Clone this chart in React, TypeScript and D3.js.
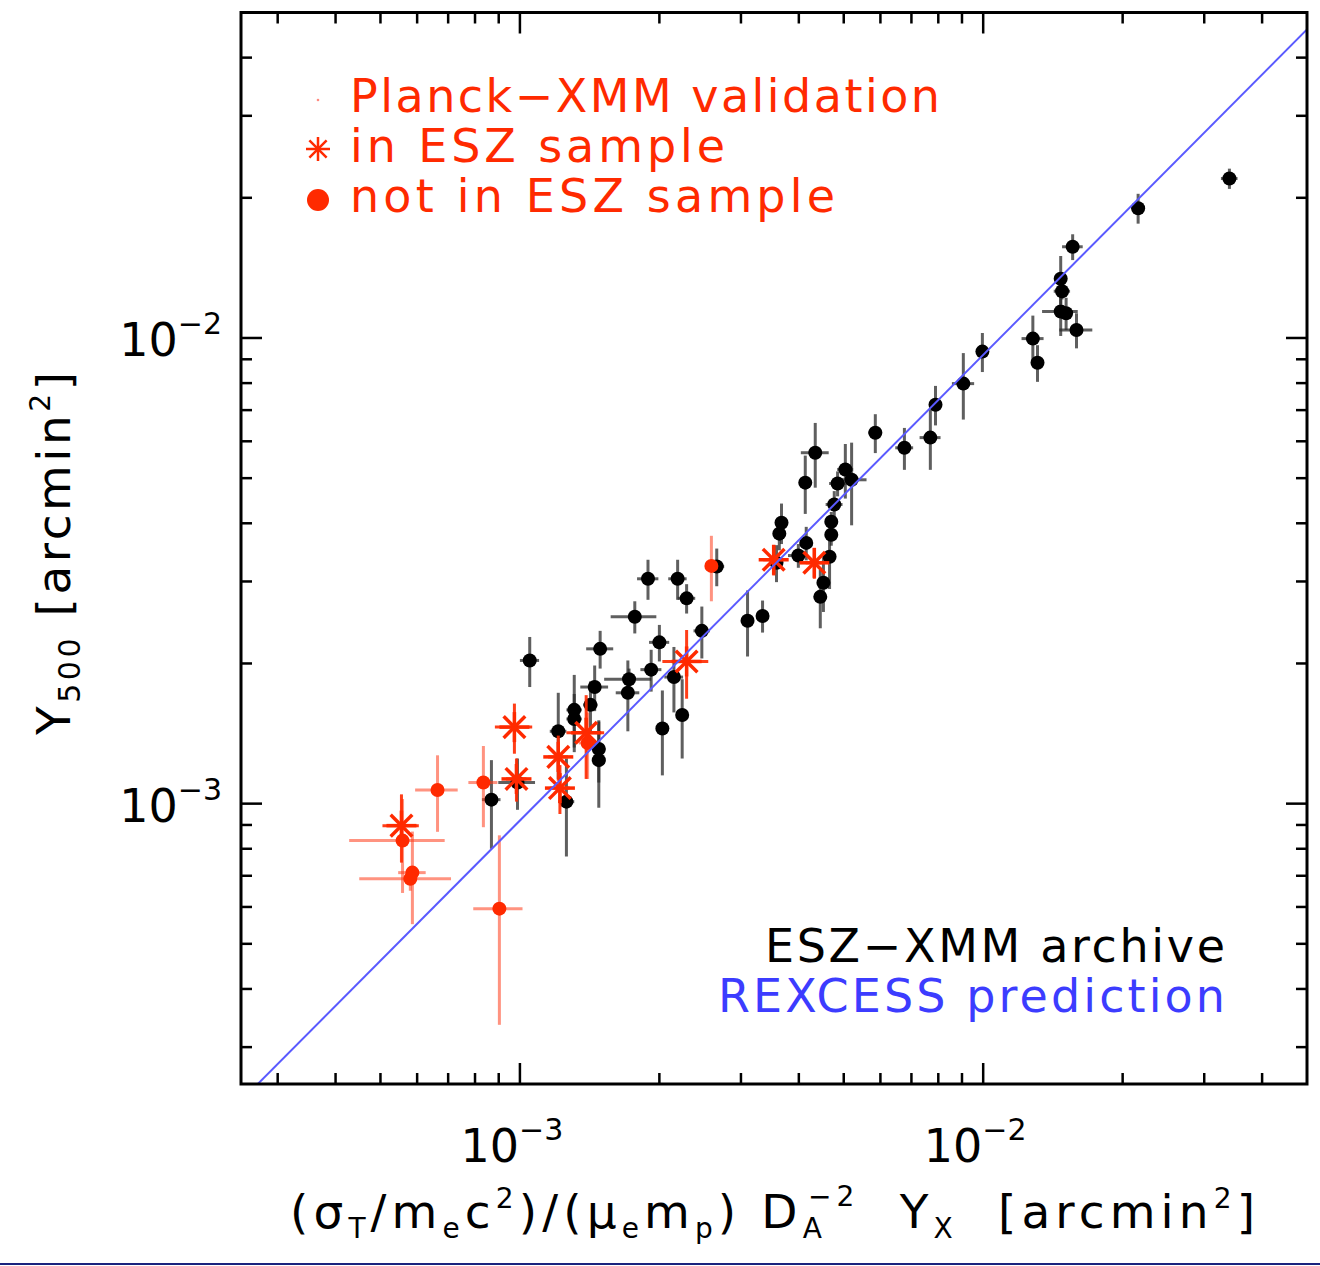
import React from 'react';
import * as d3 from 'd3';

// ---------- data ----------
// ESZ-XMM archive (black)
const eszX = [0.0340, 0.0216, 0.0156, 0.0147, 0.0148, 0.0147, 0.0151, 0.0159, 0.0128, 0.0131,
  0.00996, 0.00906, 0.00789, 0.00769, 0.00676, 0.00585, 0.00520, 0.00504, 0.00485, 0.00477,
  0.00470, 0.00470, 0.00466, 0.00452, 0.00445, 0.00434, 0.00413, 0.00415, 0.00399, 0.00367,
  0.00363, 0.00358, 0.00334, 0.00310, 0.00247, 0.00229, 0.00219, 0.00189, 0.00266, 0.00177,
  0.00200, 0.00149, 0.00105, 0.00192, 0.00215, 0.00224, 0.00203, 0.00172, 0.00171, 0.00145,
  0.00142, 0.00131, 0.00131, 0.00121, 0.00148, 0.00148, 0.00126, 0.000988, 0.000868];
const eszY = [0.0220, 0.0190, 0.0157, 0.0134, 0.0126, 0.0114, 0.0113, 0.0104, 0.00997, 0.00885,
  0.00935, 0.00798, 0.00719, 0.00611, 0.00581, 0.00626, 0.00496, 0.00522, 0.00487, 0.00439,
  0.00403, 0.00378, 0.00339, 0.00298, 0.00278, 0.00567, 0.00489, 0.00363, 0.00341, 0.00401,
  0.00380, 0.00329, 0.00253, 0.00247, 0.00235, 0.00276, 0.00304, 0.00304, 0.00323, 0.00252,
  0.00222, 0.00215, 0.00203, 0.00194, 0.00187, 0.00155, 0.00145, 0.00185, 0.00173, 0.00178,
  0.00163, 0.00159, 0.00152, 0.00143, 0.00131, 0.00124, 0.00101, 0.00111, 0.00102];
const eszXErr = [0.0014, 0.0007, 0.0008, 0.0004, 0.0006, 0.0013, 0.0005, 0.0013, 0.0007, 0.0002,
  0.0003, 0.0005, 0.0002, 0.0004, 0.0003, 0.0002, 0.0004, 0.0002, 0.0002, 0.0002,
  0.0001, 0.0001, 0.0001, 0.0001, 0.0001, 0.0003, 0.0001, 0.0001, 0.0002, 0.0001,
  0.0001, 0.0001, 0.0001, 0.0001, 0.0001, 0.0001, 0.0001, 0.0001, 0.0001, 0.0002,
  0.0001, 0.0001, 0.00005, 0.0001, 0.0001, 0.00005, 0.00005, 0.0002, 0.0001, 0.0001,
  0.00005, 0.00005, 0.00005, 0.00005, 0.00005, 0.00005, 0.00005, 0.00009, 0.00004];
const eszYErr = [0.0011, 0.0014, 0.0010, 0.0016, 0.0005, 0.0013, 0.0009, 0.0009, 0.0012, 0.0008,
  0.0009, 0.0013, 0.0007, 0.0009, 0.0006, 0.0006, 0.0010, 0.0007, 0.0003, 0.0003,
  0.0002, 0.0002, 0.0005, 0.0004, 0.0004, 0.0009, 0.0007, 0.0003, 0.0002, 0.0004,
  0.0003, 0.0003, 0.0002, 0.0004, 0.0003, 0.0002, 0.0003, 0.0003, 0.0003, 0.0002,
  0.0002, 0.0002, 0.00025, 0.0002, 0.0003, 0.0003, 0.0003, 0.0001, 0.0003, 0.0002,
  0.0002, 0.0003, 0.0002, 0.0003, 0.0002, 0.00026, 0.00024, 0.00014, 0.00022];

// Planck-XMM validation, in ESZ sample (red asterisks)
const inX = [0.000555, 0.000973, 0.000983, 0.00121, 0.00122, 0.00139, 0.00229, 0.00353, 0.00432];
const inY = [0.000897, 0.00146, 0.00113, 0.00126, 0.00108, 0.00142, 0.00202, 0.00334, 0.00329];
const inXErr = [0.00005, 0.00009, 0.00005, 0.00006, 0.00006, 0.00013, 0.00026, 0.00018, 0.00018];
const inYErr = [0.00015, 0.00018, 0.00012, 0.00014, 0.00013, 0.00029, 0.00034, 0.00025, 0.00025];

// Planck-XMM validation, not in ESZ sample (red dots)
const outX = [0.000558, 0.000586, 0.000580, 0.000664, 0.000834, 0.000903, 0.00259, 0.00140];
const outY = [0.000833, 0.000711, 0.000690, 0.00107, 0.00111, 0.000595, 0.00324, 0.00135];
const outXErr = [0.00013, 0.00004, 0.00013, 0.00007, 0.00006, 0.00011, 0.00008, 0.00006];
const outYErr = [0.00019, 0.00016, 0.00004, 0.00020, 0.00022, 0.00026, 0.00052, 0.00022];

// REXCESS prediction: Y500 = norm * Yx
const rexcessNorm = 0.92;
const rexcessX = [2.5e-4, 0.05];

const axisDomain: [number, number] = [2.5e-4, 0.05];
const majorTicks = [1e-3, 1e-2];
const majorExps = ['−3', '−2'];

const legendLabels = ['Planck−XMM validation', 'in ESZ sample', 'not in ESZ sample'];
const noteLabels = ['ESZ−XMM archive', 'REXCESS prediction'];

// ---------- drawing ----------
const RED = '#ff2a00';
const BLUE_LINE = '#5a5aff';
const BLUE_TEXT = '#3c3cff';
const FONT = '"DejaVu Sans", "Liberation Sans", sans-serif';

const L = 241, R = 1307, T = 12.5, B = 1084;

function Asterisk({ cx, cy, r, sw }: { cx: number; cy: number; r: number; sw: number }) {
  const d = r * 0.72;
  return (
    <g stroke={RED} strokeWidth={sw} strokeLinecap="butt">
      <line x1={cx - r} y1={cy} x2={cx + r} y2={cy} />
      <line x1={cx} y1={cy - r} x2={cx} y2={cy + r} />
      <line x1={cx - d} y1={cy - d} x2={cx + d} y2={cy + d} />
      <line x1={cx - d} y1={cy + d} x2={cx + d} y2={cy - d} />
    </g>
  );
}

export default function App() {
  const x = d3.scaleLog().domain(axisDomain).range([L, R]);
  const y = d3.scaleLog().domain(axisDomain).range([B, T]);

  const allTicks = x.ticks(20).filter((t) => t > axisDomain[0] * 1.0001 && t < axisDomain[1] * 0.9999);
  const isMajor = (t: number) => majorTicks.some((m) => Math.abs(m - t) / m < 1e-6);

  const errBars = (xs: number[], ys: number[], xe: number[], ye: number[], color: string, op: number, key: string) =>
    xs.map((xv, i) => (
      <g key={key + i} stroke={color} strokeWidth={3} opacity={op}>
        <line x1={x(Math.max(xv - xe[i], 1e-6))} x2={x(xv + xe[i])} y1={y(ys[i])} y2={y(ys[i])} />
        <line x1={x(xv)} x2={x(xv)} y1={y(Math.max(ys[i] - ye[i], 1e-6))} y2={y(ys[i] + ye[i])} />
      </g>
    ));

  const linePath = d3.line<number>().x((d) => x(d)).y((d) => y(d * rexcessNorm))(rexcessX) || '';

  return (
    <svg width={1320} height={1266} style={{ position: 'absolute', left: 0, top: 0, background: '#fff' }}
      fontFamily={FONT}>
      <defs>
        <clipPath id="plotclip">
          <rect x={L} y={T} width={R - L} height={B - T} />
        </clipPath>
      </defs>
      <rect x={0} y={0} width={1320} height={1266} fill="#fff" />

      <g clipPath="url(#plotclip)">
        {errBars(eszX, eszY, eszXErr, eszYErr, '#2a2a2a', 0.75, 'be')}
        {eszX.map((xv, i) => (
          <circle key={'bp' + i} cx={x(xv)} cy={y(eszY[i])} r={7} fill="#000" />
        ))}
        {errBars(outX, outY, outXErr, outYErr, '#ff3b1a', 0.55, 'de')}
        {errBars(inX, inY, inXErr, inYErr, RED, 0.9, 'se')}
        {outX.map((xv, i) => (
          <circle key={'dp' + i} cx={x(xv)} cy={y(outY[i])} r={7} fill={RED} />
        ))}
        {inX.map((xv, i) => (
          <Asterisk key={'sp' + i} cx={x(xv)} cy={y(inY[i])} r={15} sw={3.5} />
        ))}
        <path d={linePath} stroke={BLUE_LINE} strokeWidth={2} fill="none" />
      </g>

      {/* frame */}
      <rect x={L} y={T} width={R - L} height={B - T} fill="none" stroke="#000" strokeWidth={3} />

      {/* ticks */}
      <g stroke="#000" strokeWidth={2.5}>
        {allTicks.map((t, i) => {
          const len = isMajor(t) ? 21 : 11;
          const px = x(t);
          const py = y(t);
          return (
            <g key={'t' + i}>
              <line x1={px} x2={px} y1={B} y2={B - len} />
              <line x1={px} x2={px} y1={T} y2={T + len} />
              <line x1={L} x2={L + len} y1={py} y2={py} />
              <line x1={R} x2={R - len} y1={py} y2={py} />
            </g>
          );
        })}
      </g>

      {/* tick labels */}
      {majorTicks.map((t, i) => (
        <text key={'xl' + i} x={x(t) - 8} y={1162} fontSize={46} textAnchor="middle" fill="#000">
          10<tspan fontSize={30} dy={-22}>{majorExps[i]}</tspan>
        </text>
      ))}
      {majorTicks.map((t, i) => (
        <text key={'yl' + i} x={222} y={y(t) + 18} fontSize={46} textAnchor="end" fill="#000">
          10<tspan fontSize={30} dy={-22}>{majorExps[i]}</tspan>
        </text>
      ))}

      {/* x axis title */}
      <text x={290} y={1228} fontSize={47} fill="#000" textLength={965} lengthAdjust="spacing">
        (σ<tspan fontSize={28} dy={10}>T</tspan>
        <tspan dy={-10}>/m</tspan>
        <tspan fontSize={28} dy={10}>e</tspan>
        <tspan dy={-10}>c</tspan>
        <tspan fontSize={28} dy={-20}>2</tspan>
        <tspan dy={20}>)/(μ</tspan>
        <tspan fontSize={28} dy={10}>e</tspan>
        <tspan dy={-10}>m</tspan>
        <tspan fontSize={28} dy={10}>p</tspan>
        <tspan dy={-10}>) D</tspan>
        <tspan fontSize={28} dy={10}>A</tspan>
        <tspan fontSize={28} dx={-19} dy={-32}>−2</tspan>
        <tspan dy={22}>{'\u00a0\u00a0Y'}</tspan>
        <tspan fontSize={28} dy={10}>X</tspan>
        <tspan dy={-10}>{'\u00a0\u00a0[arcmin'}</tspan>
        <tspan fontSize={28} dy={-20}>2</tspan>
        <tspan dy={20}>]</tspan>
      </text>

      {/* y axis title */}
      <text transform="translate(70,735) rotate(-90)" fontSize={47} fill="#000" textLength={363} lengthAdjust="spacing">
        Y<tspan fontSize={30} dy={10}>500</tspan>
        <tspan dy={-10}>{'\u00a0[arcmin'}</tspan>
        <tspan fontSize={28} dy={-20}>2</tspan>
        <tspan dy={20}>]</tspan>
      </text>

      {/* legend top-left */}
      <circle cx={318} cy={100} r={1.3} fill="#ff8a80" />
      <Asterisk cx={318} cy={149} r={12} sw={2.5} />
      <circle cx={318} cy={200} r={11} fill={RED} />
      {legendLabels.map((s, i) => (
        <text key={'lg' + i} x={350} y={112 + i * 50} fontSize={46} fill={RED}
          textLength={[590, 375, 485][i]} lengthAdjust="spacing">{s}</text>
      ))}

      {/* annotations bottom-right */}
      <text x={765} y={962} fontSize={46} fill="#000" textLength={460} lengthAdjust="spacing">{noteLabels[0]}</text>
      <text x={718} y={1012} fontSize={46} fill={BLUE_TEXT} textLength={507} lengthAdjust="spacing">{noteLabels[1]}</text>

      {/* bottom rule */}
      <line x1={0} x2={1320} y1={1264} y2={1264} stroke="#1a237e" strokeWidth={2} />
    </svg>
  );
}
